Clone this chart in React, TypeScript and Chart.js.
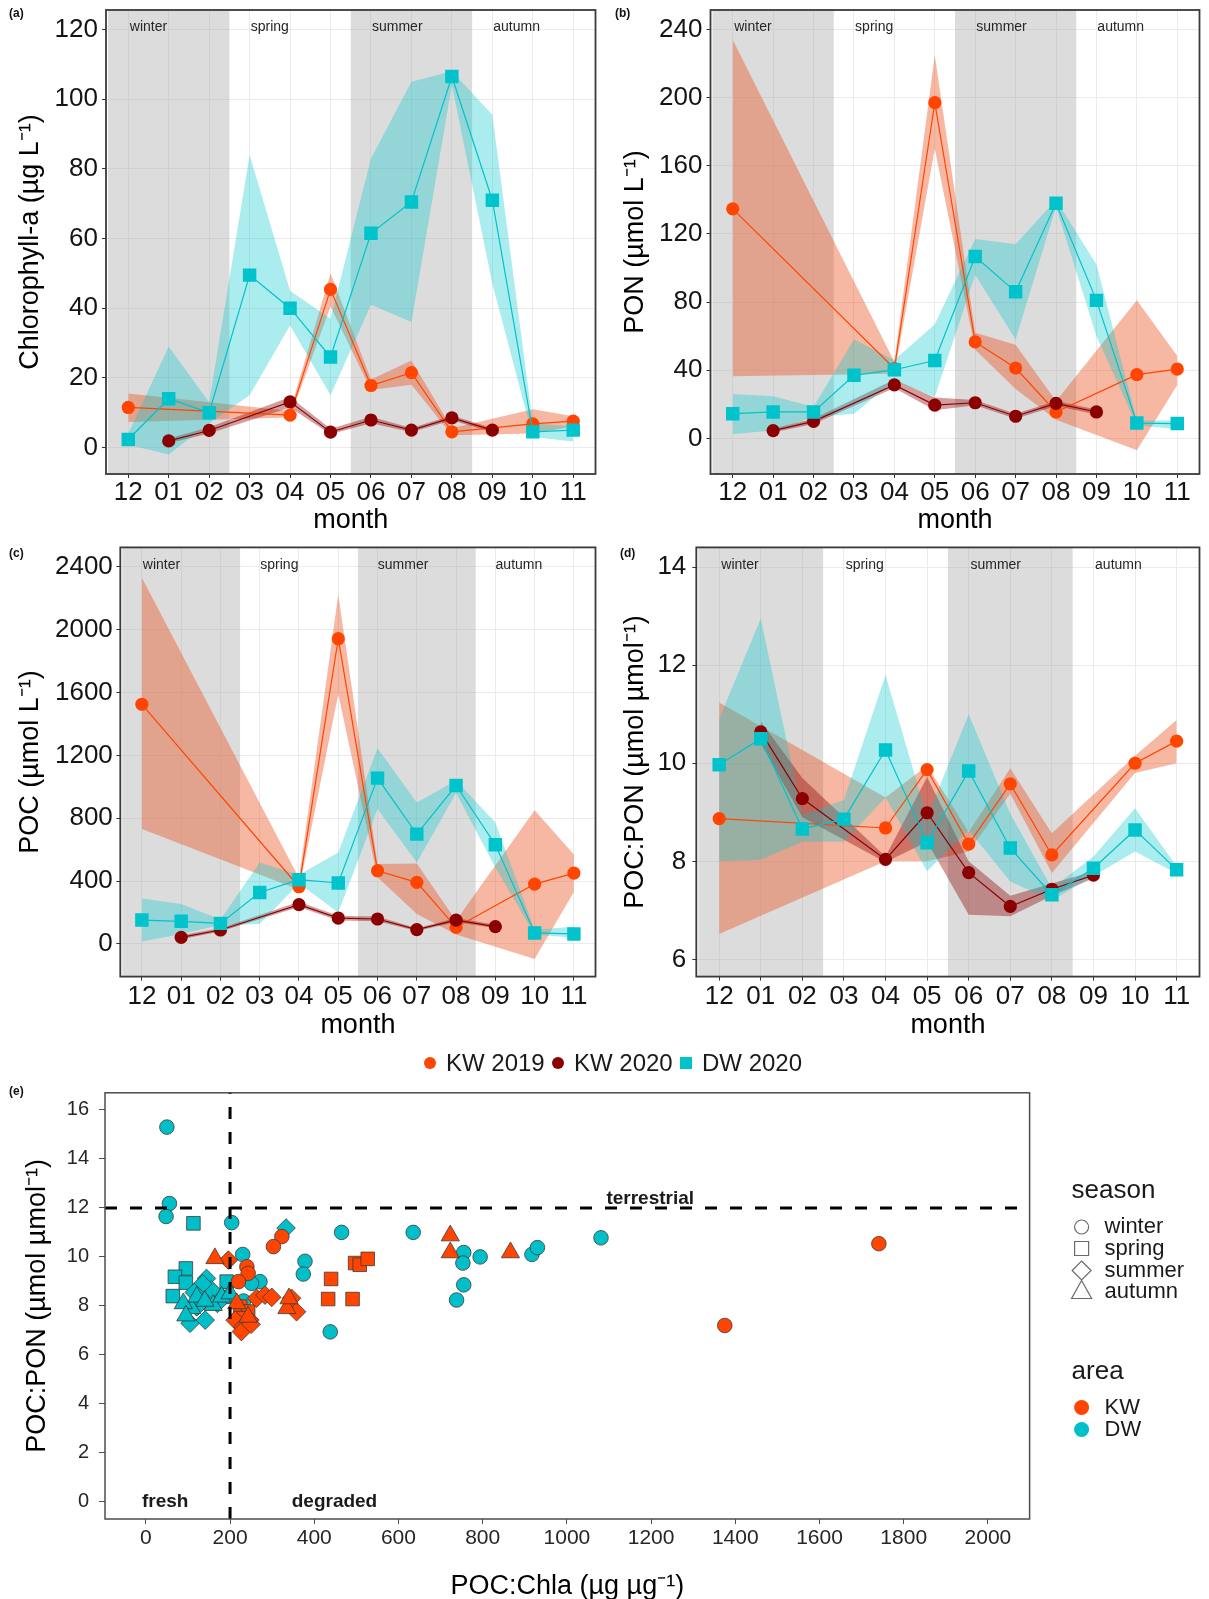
import React, { useEffect, useRef } from 'react';
import { Chart, registerables } from 'chart.js';

Chart.register(...registerables);

const FONT = '"Liberation Sans", Arial, Helvetica, sans-serif';

type V = number | null;

// ---------- shared categories ----------
const MONTH_LABELS = ['12', '01', '02', '03', '04', '05', '06', '07', '08', '09', '10', '11'];
const SEASON_NAMES = ['winter', 'spring', 'summer', 'autumn'];
const SEASON_LABEL_AT = [0.5, 3.5, 6.65, 9.6];
const SHADED_SEASONS = [[-0.5, 2.5], [5.5, 8.5]];
const SERIES_NAMES = ['KW 2019', 'KW 2020', 'DW 2020'];

const COL_KW19 = '#FF4500';
const COL_KW20 = '#8B0000';
const COL_DW20 = '#00C3CC';
const BAND_KW19 = 'rgba(235,85,35,0.42)';
const BAND_KW20 = 'rgba(139,0,0,0.38)';
const BAND_DW20 = 'rgba(0,197,205,0.33)';

// ---------- (a) Chlorophyll-a ----------
const chlKW19: V[] = [11.5, null, null, null, 9.3, 45.4, 17.8, 21.5, 4.5, null, 6.8, 7.6];
const chlKW19Lo: V[] = [7.3, null, null, null, 8.6, 40.5, 16.5, 18, 3.5, null, 4, 6];
const chlKW19Hi: V[] = [15.5, null, null, null, 10.5, 50, 19.5, 25, 5.5, null, 11, 9];
const chlKW20: V[] = [null, 1.9, 4.9, null, 13.1, 4.4, 7.9, 5, 8.5, 5, null, null];
const chlKW20Lo: V[] = [null, 1.2, 4.0, null, 11.5, 3.8, 7.0, 4.4, 7.8, 4.4, null, null];
const chlKW20Hi: V[] = [null, 2.6, 5.8, null, 14.5, 5.4, 8.8, 5.6, 9.2, 5.6, null, null];
const chlDW20: V[] = [2.3, 14, 10, 49.5, 40, 26, 61.5, 70.5, 106.5, 71, 4.5, 5];
const chlDW20Lo: V[] = [0.8, -2, 7, 15, 35, 15, 41, 36, 104, 47, 3, 1.7];
const chlDW20Hi: V[] = [4, 29, 13, 84, 45, 37, 83, 105, 108, 95.5, 7, 6];
const chlTicks = [0, 20, 40, 60, 80, 100, 120];

// ---------- (b) PON ----------
const ponKW19: V[] = [134.7, null, null, null, 41, 197, 56.6, 41.3, 15.5, null, 37.4, 40.7];
const ponKW19Lo: V[] = [36.4, null, null, null, 38, 170, 52, 29, 11, null, -7, 31.4];
const ponKW19Hi: V[] = [234, null, null, null, 45, 225, 62, 55, 22, null, 81, 48.3];
const ponKW20: V[] = [null, 4.6, 10, null, 31.4, 19.5, 20.9, 13, 20.5, 15.5, null, null];
const ponKW20Lo: V[] = [null, 3.5, 8.5, null, 29.5, 16.5, 19.5, 11.5, 19, 14, null, null];
const ponKW20Hi: V[] = [null, 5.8, 11.5, null, 34.5, 24, 22.5, 14.5, 22, 17, null, null];
const ponDW20: V[] = [14.5, 15.5, 15.5, 37, 40.3, 45.7, 106.7, 86, 138, 81, 9, 8.7];
const ponDW20Lo: V[] = [2.6, 4.6, 12.5, 14.5, 34, 24.4, 96, 58, 136, 60, 7.5, 5.5];
const ponDW20Hi: V[] = [26, 24.8, 18.5, 58, 46, 67, 117, 114, 140, 102, 10.5, 10.5];
const ponTicks = [0, 40, 80, 120, 160, 200, 240];

// ---------- (c) POC ----------
const pocKW19: V[] = [1525, null, null, null, 364, 1942, 466, 392, 106, null, 381, 451];
const pocKW19Lo: V[] = [731, null, null, null, 345, 1589, 424, 190, 60, null, -95, 330];
const pocKW19Hi: V[] = [2330, null, null, null, 420, 2224, 508, 512, 150, null, 851, 570];
const pocKW20: V[] = [null, 42, 89, null, 250, 165, 159, 91, 152, 110, null, null];
const pocKW20Lo: V[] = [null, 30, 80, null, 235, 150, 145, 82, 140, 100, null, null];
const pocKW20Hi: V[] = [null, 55, 100, null, 268, 180, 175, 100, 165, 122, null, null];
const pocDW20: V[] = [152, 144, 131, 328, 409, 388, 1055, 699, 1008, 631, 70, 64];
const pocDW20Lo: V[] = [15, 64, 120, 127, 385, 201, 858, 519, 960, 487, 60, 40];
const pocDW20Hi: V[] = [290, 254, 155, 519, 440, 582, 1245, 900, 1040, 773, 90, 110];
const pocTicks = [0, 400, 800, 1200, 1600, 2000, 2400];

// ---------- (d) POC:PON ----------
const cnKW19: V[] = [8.87, null, null, null, 8.68, 9.87, 8.35, 9.58, 8.13, null, 10.0, 10.45];
const cnKW19Lo: V[] = [6.52, null, null, null, 8.0, 8.0, 8.2, 9.38, 7.76, null, 9.8, 10.0];
const cnKW19Hi: V[] = [11.24, null, null, null, 9.3, 9.95, 8.6, 9.9, 8.57, null, 10.15, 10.88];
const cnKW20: V[] = [null, 10.64, 9.28, null, 8.04, 8.99, 7.77, 7.08, 7.43, 7.72, null, null];
const cnKW20Lo: V[] = [null, 10.4, 8.9, null, 7.98, 8.4, 6.91, 6.88, 7.3, 7.65, null, null];
const cnKW20Hi: V[] = [null, 10.85, 9.7, null, 8.1, 9.72, 8.0, 7.3, 7.55, 7.8, null, null];
const cnDW20: V[] = [9.97, 10.5, 8.66, 8.86, 10.27, 8.38, 9.84, 8.27, 7.32, 7.86, 8.64, 7.83];
const cnDW20Lo: V[] = [8.0, 8.03, 8.4, 8.4, 9.3, 7.8, 8.64, 7.59, 7.2, 7.7, 8.2, 7.75];
const cnDW20Hi: V[] = [10.9, 12.95, 8.95, 9.25, 11.8, 8.9, 11.0, 8.97, 7.45, 8.1, 9.08, 7.9];
const cnTicks = [6, 8, 10, 12, 14];

// ---------- (e) POC:Chla vs POC:PON ----------
const kwWinterX = [323, 303, 240, 243, 220, 1375, 1741];
const kwWinterY = [10.83, 10.42, 9.6, 9.33, 8.99, 7.2, 10.54];
const kwSpringX = [440, 433, 491, 497, 508, 527, 224, 243, 228];
const kwSpringY = [9.1, 8.28, 8.28, 9.75, 9.68, 9.92, 7.97, 7.77, 7.5];
const kwSummerX = [196, 263, 283, 299, 212, 247, 231, 346, 358, 227, 250];
const kwSummerY = [9.87, 8.31, 8.44, 8.35, 7.42, 7.42, 7.15, 8.31, 7.76, 6.95, 7.25];
const kwAutumnX = [164, 723, 723, 866, 335, 243, 216, 340];
const kwAutumnY = [9.94, 10.87, 10.18, 10.18, 7.9, 7.55, 8.1, 8.3];
const dwWinterX = [50, 56, 48, 204, 230, 378, 374, 465, 635, 438, 755, 753, 755, 738, 794, 917, 930, 1081, 271, 251, 232];
const dwWinterY = [15.3, 12.18, 11.65, 11.4, 10.1, 9.82, 9.3, 11.0, 11.0, 6.94, 10.18, 9.75, 8.86, 8.24, 10.0, 10.1, 10.38, 10.78, 8.99, 8.92, 8.2];
const dwSpringX = [113, 95, 69, 95, 64, 192, 188, 130];
const dwSpringY = [11.37, 9.53, 9.19, 8.95, 8.4, 8.99, 8.37, 8.6];
const dwSummerX = [333, 144, 156, 129, 121, 105, 141, 170, 135, 115];
const dwSummerY = [11.18, 9.12, 8.65, 8.37, 7.96, 7.29, 7.42, 8.1, 8.9, 8.55];
const dwAutumnX = [109, 160, 180, 89, 121, 95, 200, 140];
const dwAutumnY = [7.9, 8.03, 8.37, 8.1, 8.37, 7.6, 8.5, 8.2];
const eXTicks = [0, 200, 400, 600, 800, 1000, 1200, 1400, 1600, 1800, 2000];
const eYTicks = [0, 2, 4, 6, 8, 10, 12, 14, 16];
const E_REF_X = 200;
const E_REF_Y = 12;
const E_NOTES = [
  { text: 'terrestrial', x: 1198, y: 12.37 },
  { text: 'fresh', x: 46, y: 0 },
  { text: 'degraded', x: 448, y: 0 },
];
const AREA_NAMES = ['KW', 'DW'];
const AREA_COLORS = ['#FF4500', '#00BFC8'];

// ---------- helpers ----------
function pts(vals: V[]) {
  const out: { x: number; y: number }[] = [];
  vals.forEach((v, i) => {
    if (v !== null && v !== undefined) out.push({ x: i, y: v });
  });
  return out;
}
function xy(xs: number[], ys: number[]) {
  return xs.map((x, i) => ({ x, y: ys[i] }));
}

const seasonPlugin = {
  id: 'seasonShade',
  beforeDatasetsDraw(chart: any) {
    const { ctx, chartArea: ca, scales } = chart;
    const x = scales.x;
    ctx.save();
    ctx.fillStyle = 'rgba(170,170,170,0.41)';
    SHADED_SEASONS.forEach(([a, b]) => {
      const x0 = Math.max(ca.left, x.getPixelForValue(a));
      const x1 = Math.min(ca.right, x.getPixelForValue(b));
      ctx.fillRect(x0, ca.top, x1 - x0, ca.bottom - ca.top);
    });
    ctx.restore();
  },
  afterDatasetsDraw(chart: any) {
    const { ctx, chartArea: ca, scales } = chart;
    ctx.save();
    ctx.fillStyle = '#262626';
    ctx.font = `14px ${FONT}`;
    ctx.textAlign = 'center';
    ctx.textBaseline = 'middle';
    SEASON_NAMES.forEach((s, i) => {
      ctx.fillText(s, scales.x.getPixelForValue(SEASON_LABEL_AT[i]), ca.top + 17.5);
    });
    ctx.restore();
  },
};

function framePlugin(color: string, width: number) {
  return {
    id: 'frame',
    afterDraw(chart: any) {
      const { ctx, chartArea: ca } = chart;
      ctx.save();
      ctx.strokeStyle = color;
      ctx.lineWidth = width;
      ctx.strokeRect(ca.left, ca.top, ca.right - ca.left, ca.bottom - ca.top);
      ctx.restore();
    },
  };
}

function fitX(h: number) {
  return (s: any) => {
    s.height = h;
    s.paddingLeft = 0;
    s.paddingRight = 0;
    s.paddingTop = 0;
    s.paddingBottom = 0;
  };
}
function fitY(w: number) {
  return (s: any) => {
    s.width = w;
    s.paddingLeft = 0;
    s.paddingRight = 0;
    s.paddingTop = 0;
    s.paddingBottom = 0;
  };
}

interface SeriesCfg {
  vals: V[];
  lo: V[];
  hi: V[];
  color: string;
  band: string;
  shape: string;
  name: string;
}
interface PanelCfg {
  width: number;
  height: number;
  area: { left: number; top: number; right: number; bottom: number };
  yMin: number;
  yMax: number;
  yTicks: number[];
  yTitle: string;
  yTitleX: number;
  yTickGap: number;
  xTickCenter: number;
  xTitleY: number;
  series: SeriesCfg[];
}

function makeLinePanel(canvas: HTMLCanvasElement, p: PanelCfg) {
  const datasets: any[] = [];
  p.series.forEach((s, k) => {
    datasets.push({
      label: s.name + ' upper',
      data: pts(s.hi),
      fill: '+1',
      backgroundColor: s.band,
      borderColor: 'rgba(0,0,0,0)',
      borderWidth: 0,
      pointRadius: 0,
      order: 100 - 2 * k,
    });
    datasets.push({
      label: s.name + ' lower',
      data: pts(s.lo),
      fill: false,
      borderColor: 'rgba(0,0,0,0)',
      borderWidth: 0,
      pointRadius: 0,
      order: 99 - 2 * k,
    });
  });
  p.series.forEach((s, k) => {
    datasets.push({
      label: s.name,
      data: pts(s.vals),
      fill: false,
      borderColor: s.color,
      backgroundColor: s.color,
      borderWidth: 1.2,
      pointStyle: s.shape,
      pointRadius: s.shape === 'rect' ? 9.5 : 6.6,
      pointBorderWidth: 0,
      pointBackgroundColor: s.color,
      order: 10 - k,
    });
  });
  const tickLen = 4;
  const tickFont = 26;
  const titleFont = 27;
  return new Chart(canvas, {
    type: 'line',
    data: { datasets },
    options: {
      animation: false,
      responsive: false,
      maintainAspectRatio: false,
      layout: {
        padding: { left: 0, top: p.area.top, right: p.width - p.area.right, bottom: 0 },
      },
      plugins: { legend: { display: false }, tooltip: { enabled: false } },
      scales: {
        x: {
          type: 'linear',
          min: -0.55,
          max: 11.55,
          afterBuildTicks: (s: any) => {
            s.ticks = MONTH_LABELS.map((_, i) => ({ value: i }));
          },
          afterFit: fitX(p.height - p.area.bottom),
          ticks: {
            autoSkip: false,
            maxRotation: 0,
            callback: (_v: any, i: number) => MONTH_LABELS[i],
            font: { family: FONT, size: tickFont, lineHeight: 1 },
            color: '#141414',
            padding: p.xTickCenter - p.area.bottom - tickLen - tickFont / 2,
          },
          grid: { color: '#ebebeb', lineWidth: 1, tickColor: '#333', tickLength: tickLen, drawTicks: true },
          border: { display: false },
          title: {
            display: true,
            text: 'month',
            color: '#000',
            font: { family: FONT, size: titleFont, lineHeight: 1 },
            padding: { top: 0, bottom: p.height - p.xTitleY - titleFont / 2 },
          },
        },
        y: {
          type: 'linear',
          min: p.yMin,
          max: p.yMax,
          afterBuildTicks: (s: any) => {
            s.ticks = p.yTicks.map((v) => ({ value: v }));
          },
          afterFit: fitY(p.area.left),
          ticks: {
            callback: (v: any) => String(v),
            font: { family: FONT, size: tickFont, lineHeight: 1 },
            color: '#141414',
            padding: p.yTickGap - tickLen,
          },
          grid: { color: '#ebebeb', lineWidth: 1, tickColor: '#333', tickLength: tickLen, drawTicks: true },
          border: { display: false },
          title: {
            display: true,
            text: p.yTitle,
            color: '#000',
            font: { family: FONT, size: titleFont, lineHeight: 1 },
            padding: { top: p.yTitleX - titleFont / 2, bottom: 0 },
          },
        },
      },
    } as any,
    plugins: [seasonPlugin, framePlugin('#3a3a3a', 1.8)],
  });
}

function seriesSet(
  kw19: V[], kw19lo: V[], kw19hi: V[],
  kw20: V[], kw20lo: V[], kw20hi: V[],
  dw20: V[], dw20lo: V[], dw20hi: V[]
): SeriesCfg[] {
  return [
    { name: SERIES_NAMES[0], vals: kw19, lo: kw19lo, hi: kw19hi, color: COL_KW19, band: BAND_KW19, shape: 'circle' },
    { name: SERIES_NAMES[1], vals: kw20, lo: kw20lo, hi: kw20hi, color: COL_KW20, band: BAND_KW20, shape: 'circle' },
    { name: SERIES_NAMES[2], vals: dw20, lo: dw20lo, hi: dw20hi, color: COL_DW20, band: BAND_DW20, shape: 'rect' },
  ];
}

// ---------- scatter (e) ----------
function drawShape(ctx: CanvasRenderingContext2D, shape: string, x: number, y: number) {
  ctx.beginPath();
  if (shape === 'circle') {
    ctx.arc(x, y, 7, 0, Math.PI * 2);
  } else if (shape === 'rect') {
    ctx.rect(x - 7, y - 7, 14, 14);
  } else if (shape === 'rectRot') {
    ctx.moveTo(x, y - 9.5);
    ctx.lineTo(x + 9.5, y);
    ctx.lineTo(x, y + 9.5);
    ctx.lineTo(x - 9.5, y);
    ctx.closePath();
  } else {
    ctx.moveTo(x, y - 11);
    ctx.lineTo(x + 10, y + 7);
    ctx.lineTo(x - 10, y + 7);
    ctx.closePath();
  }
}

const scatterPlugin = {
  id: 'scatterExtras',
  afterDatasetsDraw(chart: any) {
    const { ctx, chartArea: ca, scales } = chart;
    const xs = scales.x;
    const ys = scales.y;
    ctx.save();
    ctx.strokeStyle = '#000';
    ctx.lineWidth = 3;
    ctx.setLineDash([12, 13]);
    const px = xs.getPixelForValue(E_REF_X);
    ctx.beginPath();
    ctx.moveTo(px, ca.bottom);
    ctx.lineTo(px, ca.top);
    ctx.stroke();
    const py = ys.getPixelForValue(E_REF_Y);
    ctx.beginPath();
    ctx.moveTo(ca.left, py);
    ctx.lineTo(ca.right, py);
    ctx.stroke();
    ctx.setLineDash([]);
    ctx.fillStyle = '#1a1a1a';
    ctx.font = `bold 19px ${FONT}`;
    ctx.textAlign = 'center';
    ctx.textBaseline = 'middle';
    E_NOTES.forEach((n) => ctx.fillText(n.text, xs.getPixelForValue(n.x), ys.getPixelForValue(n.y)));
    ctx.restore();
  },
  afterDraw(chart: any) {
    const { ctx, chartArea: ca } = chart;
    ctx.save();
    const tx = ca.right + 42;
    const sx = ca.right + 52;
    const lx = ca.right + 75;
    ctx.fillStyle = '#1a1a1a';
    ctx.textAlign = 'left';
    ctx.textBaseline = 'middle';
    ctx.font = `26px ${FONT}`;
    ctx.fillText('season', tx, 116);
    const shapes = ['circle', 'rect', 'rectRot', 'triangle'];
    const rows = [152, 173.5, 195.5, 216.5];
    ctx.font = `22px ${FONT}`;
    SEASON_NAMES.forEach((s, i) => {
      ctx.strokeStyle = '#6b6b6b';
      ctx.lineWidth = 1.2;
      drawShape(ctx, shapes[i], sx, rows[i]);
      ctx.stroke();
      ctx.fillStyle = '#1a1a1a';
      ctx.fillText(s, lx, rows[i]);
    });
    ctx.font = `26px ${FONT}`;
    ctx.fillText('area', tx, 297);
    ctx.font = `22px ${FONT}`;
    const aRows = [332.5, 354.5];
    AREA_NAMES.forEach((a, i) => {
      ctx.fillStyle = AREA_COLORS[i];
      ctx.beginPath();
      ctx.arc(sx, aRows[i], 7.5, 0, Math.PI * 2);
      ctx.fill();
      ctx.fillStyle = '#1a1a1a';
      ctx.fillText(a, lx, aRows[i]);
    });
    ctx.restore();
  },
};

function makeScatter(canvas: HTMLCanvasElement) {
  const W = 1209;
  const H = 524;
  const area = { left: 105, top: 17.8, right: 1029.6, bottom: 444 };
  const groups = [
    { label: 'DW winter', xs: dwWinterX, ys: dwWinterY, shape: 'circle', col: AREA_COLORS[1] },
    { label: 'DW spring', xs: dwSpringX, ys: dwSpringY, shape: 'rect', col: AREA_COLORS[1] },
    { label: 'DW summer', xs: dwSummerX, ys: dwSummerY, shape: 'rectRot', col: AREA_COLORS[1] },
    { label: 'DW autumn', xs: dwAutumnX, ys: dwAutumnY, shape: 'triangle', col: AREA_COLORS[1] },
    { label: 'KW winter', xs: kwWinterX, ys: kwWinterY, shape: 'circle', col: AREA_COLORS[0] },
    { label: 'KW spring', xs: kwSpringX, ys: kwSpringY, shape: 'rect', col: AREA_COLORS[0] },
    { label: 'KW summer', xs: kwSummerX, ys: kwSummerY, shape: 'rectRot', col: AREA_COLORS[0] },
    { label: 'KW autumn', xs: kwAutumnX, ys: kwAutumnY, shape: 'triangle', col: AREA_COLORS[0] },
  ];
  const radius: Record<string, number> = { circle: 7.3, rect: 9.6, rectRot: 9.3, triangle: 10.5 };
  const datasets = groups.map((g, i) => ({
    label: g.label,
    data: xy(g.xs, g.ys),
    pointStyle: g.shape,
    pointRadius: radius[g.shape],
    backgroundColor: g.col,
    borderColor: '#3a3a3a',
    borderWidth: 0.8,
    order: 20 - i,
  }));
  return new Chart(canvas, {
    type: 'scatter',
    data: { datasets },
    options: {
      animation: false,
      responsive: false,
      maintainAspectRatio: false,
      layout: { padding: { left: 0, top: area.top, right: W - area.right, bottom: 0 } },
      plugins: { legend: { display: false }, tooltip: { enabled: false } },
      scales: {
        x: {
          type: 'linear',
          min: -97,
          max: 2099,
          afterBuildTicks: (s: any) => {
            s.ticks = eXTicks.map((v) => ({ value: v }));
          },
          afterFit: fitX(H - area.bottom),
          ticks: {
            autoSkip: false,
            maxRotation: 0,
            callback: (v: any) => String(v),
            font: { family: FONT, size: 21, lineHeight: 1 },
            color: '#262626',
            padding: 3.5,
          },
          grid: { display: true, drawOnChartArea: false, tickColor: '#4d4d4d', tickLength: 5 },
          border: { display: false },
          title: {
            display: true,
            text: 'POC:Chla (µg µg⁻¹)',
            color: '#000',
            font: { family: FONT, size: 27, lineHeight: 1 },
            padding: { top: 0, bottom: -1 },
          },
        },
        y: {
          type: 'linear',
          min: -0.7,
          max: 16.7,
          afterBuildTicks: (s: any) => {
            s.ticks = eYTicks.map((v) => ({ value: v }));
          },
          afterFit: fitY(area.left),
          ticks: {
            callback: (v: any) => String(v),
            font: { family: FONT, size: 20, lineHeight: 1 },
            color: '#262626',
            padding: 10,
          },
          grid: { display: true, drawOnChartArea: false, tickColor: '#4d4d4d', tickLength: 6 },
          border: { display: false },
          title: {
            display: true,
            text: 'POC:PON (µmol µmol⁻¹)',
            color: '#000',
            font: { family: FONT, size: 27, lineHeight: 1 },
            padding: { top: 24.5, bottom: 0 },
          },
        },
      },
    } as any,
    plugins: [scatterPlugin, framePlugin('#4d4d4d', 1.5)],
  });
}

const tagStyle = (left: number, top: number): React.CSSProperties => ({
  position: 'absolute',
  left,
  top,
  fontFamily: FONT,
  fontWeight: 'bold',
  fontSize: 12,
  lineHeight: '14px',
  color: '#111',
});

export default function App() {
  const refA = useRef<HTMLCanvasElement>(null);
  const refB = useRef<HTMLCanvasElement>(null);
  const refC = useRef<HTMLCanvasElement>(null);
  const refD = useRef<HTMLCanvasElement>(null);
  const refE = useRef<HTMLCanvasElement>(null);

  useEffect(() => {
    const charts: Chart[] = [];
    charts.push(
      makeLinePanel(refA.current!, {
        width: 605, height: 534,
        area: { left: 106, top: 10, right: 601.4, bottom: 474 },
        yMin: -7.6, yMax: 125.6, yTicks: chlTicks,
        yTitle: 'Chlorophyll-a (µg L⁻¹)', yTitleX: 30.5, yTickGap: 8,
        xTickCenter: 493, xTitleY: 521,
        series: seriesSet(chlKW19, chlKW19Lo, chlKW19Hi, chlKW20, chlKW20Lo, chlKW20Hi, chlDW20, chlDW20Lo, chlDW20Hi),
      })
    );
    charts.push(
      makeLinePanel(refB.current!, {
        width: 604, height: 534,
        area: { left: 105.5, top: 10, right: 601, bottom: 474 },
        yMin: -20.9, yMax: 251.4, yTicks: ponTicks,
        yTitle: 'PON (µmol L⁻¹)', yTitleX: 31, yTickGap: 8,
        xTickCenter: 493, xTitleY: 521,
        series: seriesSet(ponKW19, ponKW19Lo, ponKW19Hi, ponKW20, ponKW20Lo, ponKW20Hi, ponDW20, ponDW20Lo, ponDW20Hi),
      })
    );
    charts.push(
      makeLinePanel(refC.current!, {
        width: 605, height: 510,
        area: { left: 120.3, top: 17.4, right: 601.4, bottom: 446.6 },
        yMin: -207.6, yMax: 2523, yTicks: pocTicks,
        yTitle: 'POC (µmol L⁻¹)', yTitleX: 30.5, yTickGap: 7.5,
        xTickCenter: 466.5, xTitleY: 495.5,
        series: seriesSet(pocKW19, pocKW19Lo, pocKW19Hi, pocKW20, pocKW20Lo, pocKW20Hi, pocDW20, pocDW20Lo, pocDW20Hi),
      })
    );
    charts.push(
      makeLinePanel(refD.current!, {
        width: 604, height: 510,
        area: { left: 91.3, top: 17.4, right: 601.5, bottom: 446.6 },
        yMin: 5.65, yMax: 14.4, yTicks: cnTicks,
        yTitle: 'POC:PON (µmol µmol⁻¹)', yTitleX: 31, yTickGap: 10,
        xTickCenter: 466.5, xTitleY: 495.5,
        series: seriesSet(cnKW19, cnKW19Lo, cnKW19Hi, cnKW20, cnKW20Lo, cnKW20Hi, cnDW20, cnDW20Lo, cnDW20Hi),
      })
    );
    charts.push(makeScatter(refE.current!));
    return () => charts.forEach((c) => c.destroy());
  }, []);

  const legendItems = [
    { name: SERIES_NAMES[0], color: COL_KW19, square: false, mx: 430, tx: 446 },
    { name: SERIES_NAMES[1], color: COL_KW20, square: false, mx: 558, tx: 574 },
    { name: SERIES_NAMES[2], color: COL_DW20, square: true, mx: 686, tx: 702 },
  ];

  return (
    <div
      style={{
        position: 'absolute',
        left: 0,
        top: 0,
        width: 1209,
        height: 1599,
        overflow: 'hidden',
        background: '#fff',
        fontFamily: FONT,
      }}
    >
      <canvas ref={refA} width={605} height={534} style={{ position: 'absolute', left: 0, top: 0 }} />
      <canvas ref={refB} width={604} height={534} style={{ position: 'absolute', left: 605, top: 0 }} />
      <canvas ref={refC} width={605} height={510} style={{ position: 'absolute', left: 0, top: 530 }} />
      <canvas ref={refD} width={604} height={510} style={{ position: 'absolute', left: 605, top: 530 }} />
      <canvas ref={refE} width={1209} height={524} style={{ position: 'absolute', left: 0, top: 1075 }} />

      <div style={tagStyle(9, 6)}>(a)</div>
      <div style={tagStyle(615, 6)}>(b)</div>
      <div style={tagStyle(9, 546)}>(c)</div>
      <div style={tagStyle(620, 546)}>(d)</div>
      <div style={tagStyle(9, 1084)}>(e)</div>

      {legendItems.map((it) => (
        <React.Fragment key={it.name}>
          <div
            style={{
              position: 'absolute',
              left: it.mx - 6,
              top: 1057,
              width: 12,
              height: 12,
              borderRadius: it.square ? 0 : '50%',
              background: it.color,
            }}
          />
          <div
            style={{
              position: 'absolute',
              left: it.tx,
              top: 1051,
              fontSize: 24,
              lineHeight: '24px',
              color: '#1a1a1a',
              whiteSpace: 'nowrap',
            }}
          >
            {it.name}
          </div>
        </React.Fragment>
      ))}
    </div>
  );
}
